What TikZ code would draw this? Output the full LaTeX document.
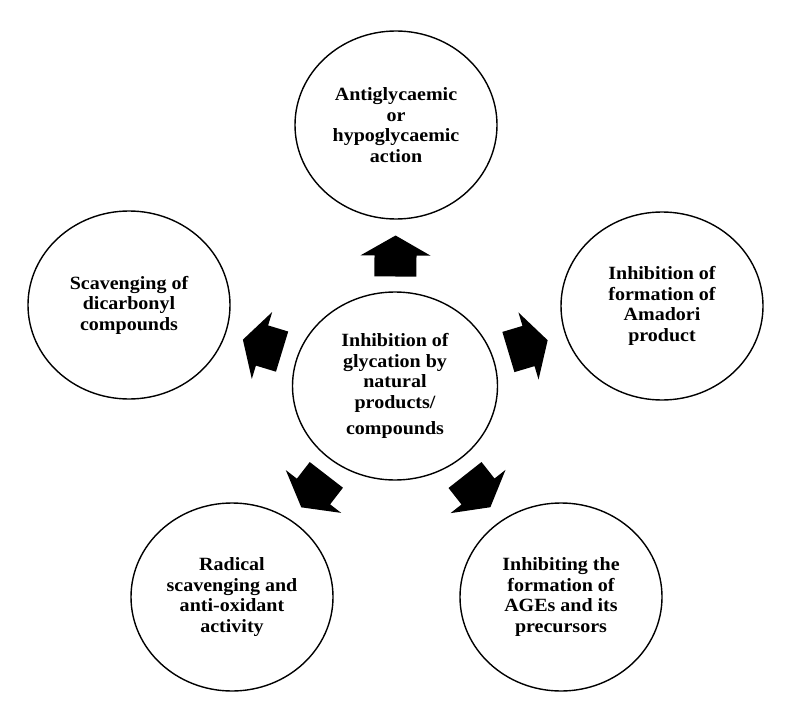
\documentclass[tikz,border=0pt]{standalone}
\usepackage{fontspec}
\setmainfont{Liberation Serif}[FakeStretch=1.07]
\usetikzlibrary{shapes.geometric,calc}
\begin{document}
\begin{tikzpicture}[x=1pt,y=-1pt,
  bubble/.style={ellipse, draw, line width=1.4pt, minimum width=202pt, minimum height=188pt,
    inner sep=0pt, align=center, font=\fontsize{18.7}{20.5}\selectfont\bfseries}]
\useasboundingbox (0,0) rectangle (791,719);
\node[bubble, minimum width=205pt] (c) at (395,386) {Inhibition of\\glycation by\\natural\\products/\\[6pt]compounds};
\node[bubble] (top) at (396,125) {Antiglycaemic\\or\\hypoglycaemic\\action};
\node[bubble] (tl) at (129,305) {Scavenging of\\dicarbonyl\\compounds};
\node[bubble] (rt) at (662,306) {Inhibition of\\formation of\\Amadori\\product};
\node[bubble] (bl) at (232,597) {Radical\\scavenging and\\anti-oxidant\\activity};
\node[bubble] (br) at (561,597) {Inhibiting the\\formation of\\AGEs and its\\precursors};
\foreach \t in {top,tl,rt,bl,br}
  \fill let \p1=($(\t)-(c)$), \n1={atan2(\y1,\x1)} in
    [shift={($(c)!0.5!(\t)$)}, rotate=\n1]
    (-21,-21) -- (0,-21) -- (0,-35) -- (20,0) -- (0,35) -- (0,21) -- (-21,21) -- cycle;
\end{tikzpicture}
\end{document}
